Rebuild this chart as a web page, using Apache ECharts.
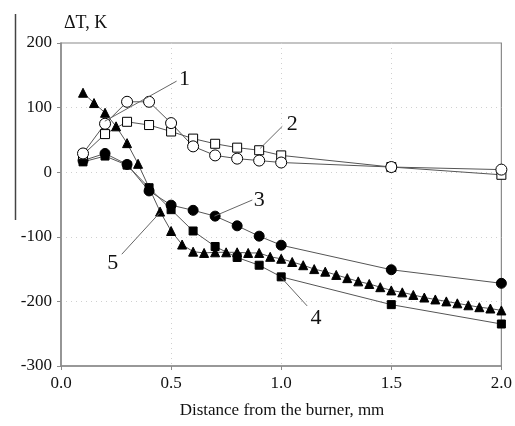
<!DOCTYPE html>
<html><head><meta charset="utf-8">
<script src="https://cdn.jsdelivr.net/npm/echarts@6/dist/echarts.min.js"></script>
<style>html,body{margin:0;padding:0;background:#fff}#c{width:515px;height:426px}</style>
</head><body><div id="c"></div>
<script>
const xMain = [0.1,0.2,0.3,0.4,0.5,0.6,0.7,0.8,0.9,1.0,1.5,2.0];
const s1 = [29,75,109,109,76,40,26,21,18,15,8,4];
const s2 = [27,59,78,73,63,52,44,38,34,26,8,-4];
const s3 = [18,29,12,-29,-51,-59,-68,-83,-99,-113,-151,-172];
const s4 = [16,25,11,-24,-58,-91,-115,-132,-144,-162,-205,-235];
const x5 = [0.1,0.15,0.2,0.25,0.3,0.35,0.4,0.45,0.5,0.55,0.6,0.65,0.7,0.75,0.8,0.85,0.9,0.95,1.0,1.05,1.1,1.15,1.2,1.25,1.3,1.35,1.4,1.45,1.5,1.55,1.6,1.65,1.7,1.75,1.8,1.85,1.9,1.95,2.0];
const s5 = [123,107,92,71,45,13,-24,-61,-91,-112,-123,-125,-124,-124,-124,-125,-125,-131,-134,-139,-144,-150,-154,-159,-164,-169,-173,-178,-183,-186,-190,-194,-197,-200,-203,-206,-209,-211,-214];
const xTicks = [0.0,0.5,1.0,1.5,2.0];
const yTicks = [-300,-200,-100,0,100,200];
// annotation labels: [text, line start (data), line end (data), label position (data)]
const annotations = [
  ['1',[0.199,79],[0.525,141],[0.561,144]],
  ['2',[0.905,37],[1.005,71],[1.05,74]],
  ['3',[0.697,-68],[0.869,-43],[0.90,-43]],
  ['4',[1.0,-163],[1.118,-207],[1.158,-226]],
  ['5',[0.448,-63],[0.276,-127],[0.235,-141]]
];
const FONT = '"Liberation Serif","DejaVu Serif",serif';
const chart = echarts.init(document.getElementById('c'));
const zip = (xs,ys)=>xs.map((x,i)=>[x,ys[i]]);
function ser(name,xs,ys,symbol,size,fill){
  return {name,type:'line',data:zip(xs,ys),symbol,symbolSize:size,
    lineStyle:{color:'#555',width:1},
    itemStyle:{color:fill,borderColor:'#000',borderWidth:1},
    emphasis:{disabled:true},z:3};
}
chart.setOption({
  animation:false,
  grid:{left:61,right:12,top:43,bottom:60,show:true,borderColor:'#8a8a8a',borderWidth:1.2},
  xAxis:{type:'value',min:0,max:2,interval:0.5,
    axisLine:{onZero:false,lineStyle:{color:'#8a8a8a',width:1.5}},
    axisTick:{show:true,length:4,lineStyle:{color:'#8a8a8a'}},
    axisLabel:{color:'#111',fontFamily:FONT,fontSize:17,margin:9,formatter:v=>v.toFixed(1)},
    splitLine:{show:true,showMinLine:false,showMaxLine:false,lineStyle:{color:'#d0d0d0',type:[1,4],width:1}}},
  yAxis:{type:'value',min:-300,max:200,interval:100,
    axisLine:{show:true,onZero:false,lineStyle:{color:'#8a8a8a',width:1.5}},
    axisTick:{show:true,length:4,lineStyle:{color:'#8a8a8a'}},
    axisLabel:{color:'#111',fontFamily:FONT,fontSize:17,margin:9},
    splitLine:{show:true,showMinLine:false,showMaxLine:false,lineStyle:{color:'#d0d0d0',type:[1,4],width:1}}},
  series:[
    ser('5',x5,s5,'triangle',9,'#000'),
    ser('4',xMain,s4,'rect',8,'#000'),
    ser('3',xMain,s3,'circle',10,'#000'),
    ser('2',xMain,s2,'rect',9,'#fff'),
    ser('1',xMain,s1,'circle',11,'#fff')
  ]
});
const g = [
  {type:'line',shape:{x1:15.5,y1:14,x2:15.5,y2:220},style:{stroke:'#444',lineWidth:1.5}},
  {type:'text',left:64,top:14,style:{text:'ΔT, K',font:'18px '+FONT,fill:'#111'}},
  {type:'text',x:282,y:411,style:{text:'Distance from the burner, mm',font:'17px '+FONT,fill:'#111',align:'center',verticalAlign:'middle'}}
];
annotations.forEach(([t,a,b,p])=>{
  const pa = chart.convertToPixel({gridIndex:0},a);
  const pb = chart.convertToPixel({gridIndex:0},b);
  const pp = chart.convertToPixel({gridIndex:0},p);
  g.push({type:'line',shape:{x1:pa[0],y1:pa[1],x2:pb[0],y2:pb[1]},style:{stroke:'#666',lineWidth:1},z:5});
  g.push({type:'text',x:pp[0],y:pp[1],style:{text:t,font:'22px '+FONT,fill:'#111',align:'center',verticalAlign:'middle'},z:5});
});
chart.setOption({graphic:g});
</script></body></html>
